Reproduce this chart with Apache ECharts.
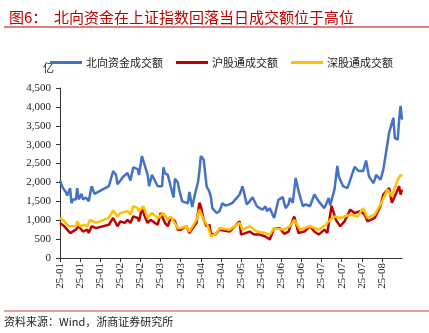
<!DOCTYPE html>
<html><head><meta charset="utf-8">
<script src="https://cdn.jsdelivr.net/npm/echarts@6/dist/echarts.min.js"></script>
<style>html,body{margin:0;padding:0;background:#fff}#c{width:429px;height:333px}</style>
</head><body><div id="c"></div>
<script>
// day offsets from 2025-01-02
const northDays = [0,2,4,5,6,7,8,9,11,12,13,15,16,18,20,22,24,25,34,37,39,40,42,44,47,49,51,52,54,55,57,59,61,62,64,66,68,69,71,72,73,75,77,79,80,82,83,85,86,89,90,92,94,96,97,98,100,102,104,105,106,109,111,113,115,118,120,123,125,127,130,132,134,137,139,141,143,144,146,149,152,155,157,159,160,162,164,166,169,171,174,177,180,184,187,188,191,193,194,197,200,202,205,208,211,213,215,218,219,220,223,225,227,229,232,233,235,236,237,238];
const northVals = [2050,1850,1750,1650,1600,1850,1450,1550,1550,1850,1550,1700,1550,1600,1500,1900,1700,1650,1900,2300,2200,1950,2050,2150,2250,2050,2400,2450,2350,2200,2700,2450,2200,1900,2200,2050,1900,1950,1900,2400,2250,2200,1900,1600,2100,2000,1800,1500,1550,1450,1750,1350,1700,2000,2300,2700,2600,1900,1750,1610,1320,1190,1240,1450,1390,1420,1460,1590,1680,1900,1420,1500,1610,1370,1320,1280,1370,1240,1320,1060,1540,1610,1320,1420,1590,1460,2120,1770,1370,1420,1370,1680,1500,1320,1590,1390,1810,2440,2160,1900,1850,2070,2410,2300,2300,2580,2160,1980,2070,2200,2070,2340,2820,3310,3710,3180,3130,3660,4030,3660,3970];
const shDays = [0,3,5,6,7,11,13,16,19,20,22,25,34,37,40,42,45,47,49,51,54,55,57,59,61,63,66,68,70,73,75,77,80,82,84,88,90,95,97,98,100,102,104,105,108,111,118,125,126,132,135,139,143,146,149,153,156,159,163,166,170,174,177,180,184,186,189,192,195,198,202,205,209,212,214,219,223,225,229,231,234,236,237,238];
const shVals = [930,840,750,700,660,750,840,700,750,660,840,790,880,1060,840,970,930,1010,930,1100,1060,970,1320,1100,930,1010,930,880,1190,930,840,1060,970,750,750,840,660,930,1460,1370,1010,840,880,640,620,750,700,970,620,700,620,620,570,490,790,790,640,700,1100,660,700,840,700,620,750,660,1380,1010,840,970,1280,1190,1240,1150,970,1060,1370,1680,1850,1460,1720,1900,1680,1810];
const szDays = [0,3,6,7,11,12,14,17,19,21,25,34,37,40,42,47,49,51,54,55,58,61,64,68,72,75,77,82,84,88,90,95,97,100,103,105,109,111,118,125,127,132,137,143,146,149,156,160,163,167,174,180,185,188,191,195,202,207,211,214,219,223,228,231,235,237,238];
const szVals = [1060,970,840,790,840,970,840,880,840,1010,930,1060,1260,1100,1190,1240,1150,1370,1320,1240,1370,1060,1190,1060,1190,1010,1100,790,790,840,700,1010,1280,1010,840,570,660,790,750,930,750,840,700,660,620,790,750,840,1010,750,840,750,880,1010,1100,1060,1150,1100,1320,1060,1150,1410,1810,1630,2070,2200,2160];
const seriesNames = ['北向资金成交额','沪股通成交额','深股通成交额'];
const seriesColors = ['#4472C4','#C00000','#FFC000'];
const yTicks = [0,500,1000,1500,2000,2500,3000,3500,4000,4500];

function pairs(d,v){return d.map((x,i)=>[x,v[i]]);}
const start = Date.UTC(2025,0,2);
function dayLabel(v){
  const d = new Date(start + v*86400000);
  const m = d.getUTCMonth()+1;
  return '25-' + (m<10?'0':'') + m;
}
const serif = '"Liberation Serif","DejaVu Serif",serif';
const cjk = '"Noto Sans CJK SC","Noto Sans",sans-serif';
const chart = echarts.init(document.getElementById('c'));
const data = [pairs(northDays,northVals),pairs(shDays,shVals),pairs(szDays,szVals)];
chart.setOption({
  animation:false,
  title:{text:'图6：  北向资金在上证指数回落当日成交额位于高位',left:4,top:5,
    textStyle:{color:'#C00000',fontSize:15,fontWeight:'normal',fontFamily:cjk}},
  legend:{left:45,top:52,itemWidth:32,itemHeight:3,itemGap:13,icon:'rect',
    textStyle:{fontSize:11,color:'#222',fontFamily:cjk,padding:[0,0,0,-1]},
    data:seriesNames},
  grid:{left:60,right:27,top:88,bottom:75,containLabel:false},
  xAxis:{type:'value',min:0,max:238,interval:14,
    axisLine:{lineStyle:{color:'#333',width:1}},
    axisTick:{show:true,length:4,lineStyle:{color:'#333'}},
    splitLine:{show:false},
    axisLabel:{rotate:90,fontSize:11,color:'#222',fontFamily:serif,margin:5,showMaxLabel:false,
      formatter:v=>v>=238?'':dayLabel(v)}},
  yAxis:{type:'value',min:yTicks[0],max:yTicks[yTicks.length-1],interval:500,
    axisLine:{show:true,lineStyle:{color:'#333',width:1}},
    axisTick:{show:true,length:4,lineStyle:{color:'#333'}},
    splitLine:{show:false},
    axisLabel:{fontSize:11,color:'#222',fontFamily:serif,margin:9,
      formatter:v=>v.toLocaleString('en-US')}},
  graphic:[
    {type:'line',shape:{x1:4,y1:27,x2:429,y2:27},style:{stroke:'#C00000',lineWidth:1}},
    {type:'text',left:43,top:62,style:{text:'亿',fontSize:11,fill:'#222',fontFamily:cjk}},
    {type:'line',shape:{x1:4,y1:311,x2:429,y2:311},style:{stroke:'#E8A0A0',lineWidth:2}},
    {type:'text',left:4,top:316,style:{text:'资料来源：Wind，浙商证券研究所',fontSize:11,fill:'#222',fontFamily:cjk}}
  ],
  series:seriesNames.map((n,i)=>({name:n,type:'line',data:data[i],showSymbol:false,symbol:'none',
    lineStyle:{color:seriesColors[i],width:2.5},itemStyle:{color:seriesColors[i]},z:2+i}))
});
</script></body></html>
